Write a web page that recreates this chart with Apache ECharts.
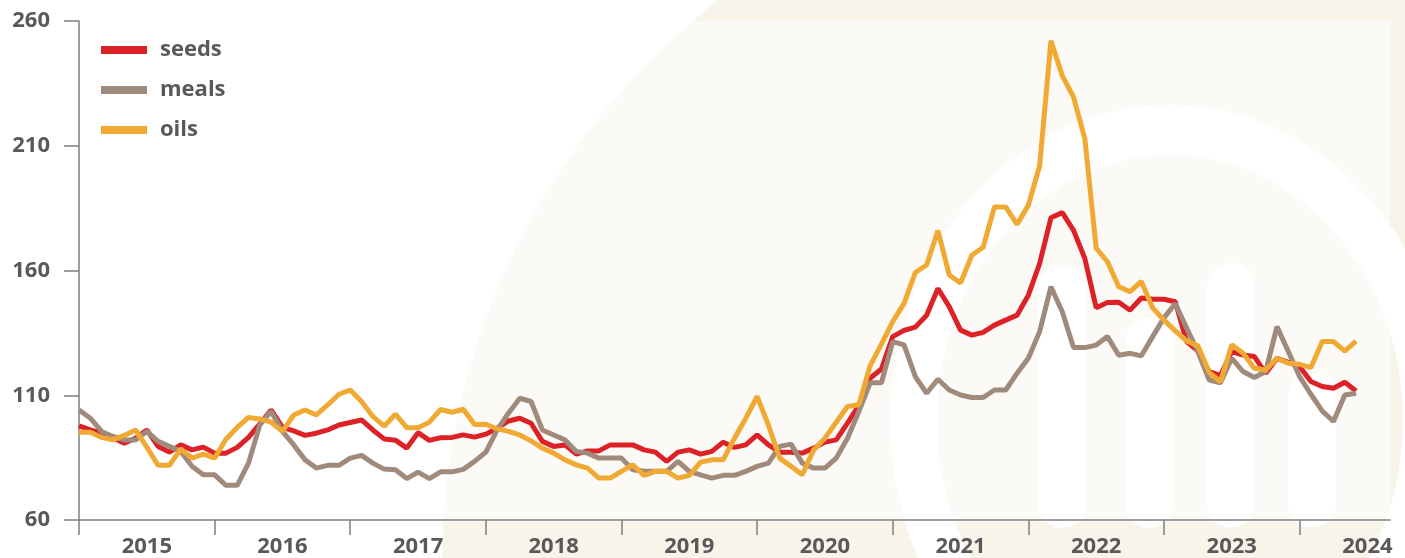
<!DOCTYPE html>
<html>
<head>
<meta charset="utf-8">
<script src="https://cdn.jsdelivr.net/npm/echarts@6/dist/echarts.min.js"></script>
<style>
  html, body { margin: 0; padding: 0; background: #ffffff; }
  #chart { width: 1405px; height: 558px; }
</style>
</head>
<body>
<div id="chart"></div>
<script>
// Monthly categories Jan 2015 .. Sep 2024 (axis runs a little past the last data point)
const months = [];
for (let y = 2015; y <= 2024; y++) {
  for (let m = 1; m <= 12; m++) {
    if (y === 2024 && m > 9) break;
    months.push(y + '-' + String(m).padStart(2, '0'));
  }
}

const seriesNames = ['seeds', 'meals', 'oils'];
const yTicks = [60, 110, 160, 210, 260];

const seeds = [
  97.7, 96.1, 94.8, 93.1, 90.8, 92.8, 96.1, 89.5, 87.2, 90.1, 88.1, 89.2,
  86.8, 86.8, 89.1, 93.1, 98.5, 104.1, 97.1, 95.7, 93.9, 94.8, 96.1, 98.1,
  99.1, 100.1, 96.1, 92.5, 92.0, 88.8, 95.0, 91.9, 93.0, 93.1, 94.1, 93.2,
  94.4, 96.8, 99.7, 100.8, 98.8, 91.5, 89.5, 90.1, 86.4, 87.7, 87.7, 90.1,
  90.1, 90.1, 88.1, 87.2, 83.5, 87.2, 88.1, 86.4, 87.5, 91.2, 89.1, 90.1,
  94.1, 90.1, 87.2, 87.2, 86.8, 88.8, 91.2, 92.1, 98.8, 106.0, 116.8, 120.5,
  133.5, 136.0, 137.3, 142.1, 152.8, 145.5, 136.1, 134.1, 135.2, 138.1, 140.1, 142.1,
  150.1, 162.8, 181.1, 183.2, 176.1, 164.8, 145.1, 147.2, 147.3, 144.1, 149.0, 148.5,
  148.5, 147.5, 131.5, 127.8, 119.5, 118.0, 127.5, 126.1, 125.5, 118.8, 124.8, 123.2,
  121.5, 115.5, 113.5, 112.8, 115.2, 111.7
];

const meals = [
  104.1, 100.8, 95.5, 93.5, 92.1, 92.1, 95.5, 91.5, 89.5, 87.5, 81.5, 78.1,
  78.1, 73.9, 73.9, 82.8, 98.1, 103.5, 95.5, 90.1, 84.1, 80.8, 81.9, 81.9,
  84.8, 85.9, 82.8, 80.4, 80.1, 76.6, 79.2, 76.6, 79.3, 79.3, 80.3, 83.5,
  87.2, 96.1, 102.8, 108.8, 107.5, 96.1, 94.1, 92.1, 87.5, 86.8, 84.8, 84.8,
  84.8, 80.1, 79.5, 79.5, 79.5, 83.5, 79.5, 78.1, 76.8, 77.9, 77.9, 79.5,
  81.5, 82.8, 89.5, 90.4, 82.8, 80.8, 80.8, 84.8, 92.8, 103.5, 115.0, 115.0,
  131.5, 130.2, 117.5, 110.8, 116.4, 112.1, 110.1, 109.1, 109.1, 112.1, 112.1, 118.8,
  124.8, 135.5, 153.5, 143.5, 129.1, 129.1, 130.1, 133.5, 126.0, 126.8, 125.8, 133.5,
  141.0, 146.8, 137.0, 127.5, 116.1, 115.0, 124.8, 119.5, 117.1, 119.5, 137.5, 127.5,
  117.5, 110.4, 103.7, 99.5, 110.1, 110.8
];

const oils = [
  95.2, 95.2, 93.1, 92.1, 93.9, 96.1, 89.2, 81.9, 81.9, 88.5, 84.8, 86.4,
  84.8, 92.4, 97.1, 101.1, 100.5, 99.2, 95.5, 102.1, 104.1, 102.1, 106.1, 110.4,
  112.1, 107.5, 101.5, 97.6, 102.4, 97.0, 97.0, 99.2, 104.3, 103.2, 104.4, 98.3,
  98.4, 96.5, 95.5, 94.1, 91.7, 88.8, 86.8, 84.1, 82.1, 80.8, 76.8, 76.8,
  79.5, 82.1, 77.9, 79.5, 79.5, 76.8, 77.9, 83.2, 84.1, 84.1, 92.8, 100.8,
  109.5, 98.1, 84.8, 81.5, 78.1, 88.1, 92.8, 99.2, 105.5, 106.2, 121.8, 130.5,
  139.5, 146.8, 159.2, 162.2, 176.0, 158.2, 155.0, 166.1, 169.3, 185.5, 185.5, 178.5,
  186.1, 202.0, 252.1, 238.1, 229.5, 212.8, 169.0, 163.5, 153.5, 151.5, 155.6, 145.0,
  140.1, 135.8, 131.8, 129.8, 119.2, 115.4, 130.2, 126.8, 120.8, 120.1, 124.8, 122.8,
  122.4, 121.1, 131.5, 131.5, 127.7, 131.7
];

const colors = { seeds: '#DC2127', meals: '#A08A7C', oils: '#F0AA33' };
const textColor = '#595959';
const axisColor = '#7F7F7F';
const fontFamily = '"Open Sans", "Liberation Sans", sans-serif';

const chart = echarts.init(document.getElementById('chart'), null, { renderer: 'canvas' });

const beige = '#F8F4EA';

const option = {
  animation: false,
  backgroundColor: '#ffffff',
  graphic: {
    elements: [
      { type: 'circle', silent: true, z: -20, shape: { cx: 1158, cy: 565, r: 716 }, style: { fill: beige } },
      { type: 'ellipse', silent: true, z: -19, shape: { cx: 1170, cy: 420, rx: 280, ry: 315 }, style: { fill: '#ffffff' } },
      { type: 'ellipse', silent: true, z: -18, shape: { cx: 1170, cy: 420, rx: 233, ry: 265 }, style: { fill: beige } },
      { type: 'rect', silent: true, z: -17, shape: { x: 1038, y: 265, width: 49, height: 263, r: 24 }, style: { fill: '#ffffff' } },
      { type: 'rect', silent: true, z: -17, shape: { x: 1125, y: 318, width: 48, height: 210, r: 24 }, style: { fill: '#ffffff' } },
      { type: 'rect', silent: true, z: -17, shape: { x: 1207, y: 263, width: 48, height: 265, r: 24 }, style: { fill: '#ffffff' } },
      { type: 'rect', silent: true, z: -17, shape: { x: 1288, y: 373, width: 48, height: 155, r: 24 }, style: { fill: '#ffffff' } },
      { type: 'rect', silent: true, z: -16, shape: { x: 79, y: 21, width: 1311, height: 501 }, style: { fill: 'rgba(255,255,255,0.55)' } }
    ]
  },
  grid: { left: 79, right: 15, top: 21, bottom: 36, containLabel: false },
  legend: {
    data: seriesNames,
    orient: 'vertical',
    left: 101,
    top: 37,
    padding: 0,
    itemWidth: 46,
    itemHeight: 8,
    itemGap: 14,
    icon: 'rect',
    textStyle: {
      color: textColor,
      fontFamily: fontFamily,
      fontWeight: 'bold',
      fontSize: 22,
      lineHeight: 26,
      padding: [0, 0, 0, 8]
    }
  },
  xAxis: {
    type: 'category',
    data: months,
    boundaryGap: false,
    axisLine: { show: true, lineStyle: { color: axisColor, width: 1.5 } },
    axisTick: {
      show: true,
      inside: false,
      length: 15,
      interval: function (index) { return index % 12 === 0; },
      lineStyle: { color: axisColor, width: 1.5 }
    },
    axisLabel: {
      show: true,
      interval: function (index) { return index % 12 === 6; },
      formatter: function (v) { return v.slice(0, 4); },
      color: textColor,
      fontFamily: fontFamily,
      fontWeight: 'bold',
      fontSize: 22,
      margin: 16
    },
    splitLine: { show: false }
  },
  yAxis: {
    type: 'value',
    min: yTicks[0],
    max: yTicks[yTicks.length - 1],
    interval: 50,
    axisLine: { show: true, lineStyle: { color: axisColor, width: 1.5 } },
    axisTick: { show: true, inside: false, length: 15, lineStyle: { color: axisColor, width: 1.5 } },
    axisLabel: {
      color: textColor,
      fontFamily: fontFamily,
      fontWeight: 'bold',
      fontSize: 22,
      margin: 29
    },
    splitLine: { show: false }
  },
  series: [
    { name: 'seeds', type: 'line', data: seeds, symbol: 'none', color: colors.seeds, lineStyle: { width: 5, color: colors.seeds } },
    { name: 'meals', type: 'line', data: meals, symbol: 'none', color: colors.meals, lineStyle: { width: 5, color: colors.meals } },
    { name: 'oils', type: 'line', data: oils, symbol: 'none', color: colors.oils, lineStyle: { width: 5, color: colors.oils } }
  ]
};

chart.setOption(option);
</script>
</body>
</html>
